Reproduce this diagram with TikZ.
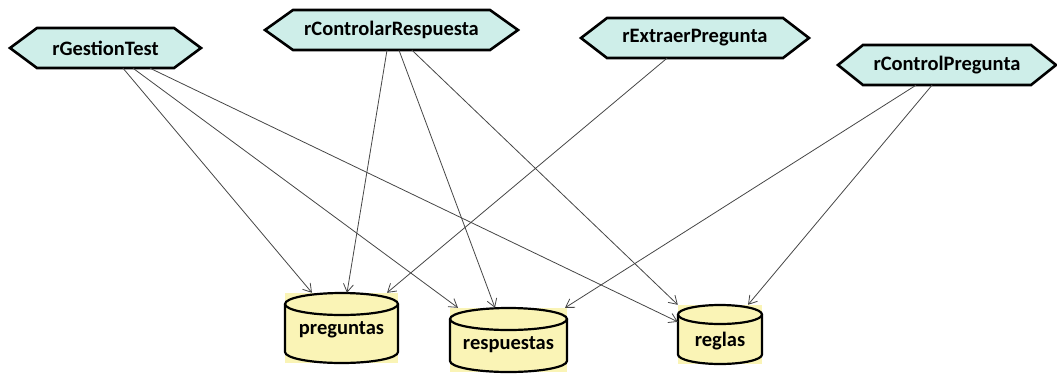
\documentclass[tikz,border=0pt]{standalone}
\usepackage{fontspec}
\setmainfont{Carlito}
\usetikzlibrary{arrows.meta,calc}

\definecolor{rulefill}{RGB}{206,238,233}
\definecolor{storefill}{RGB}{250,244,182}
\definecolor{flowgray}{RGB}{70,70,70}

\tikzset{
  x=1pt, y=-1pt,
  hexframe/.style={draw=black, line width=2.6pt, line join=miter, fill=rulefill},
  hexlabel/.style={inner sep=0pt, font=\fontsize{20.5}{22}\selectfont\bfseries, text=black},
  storeframe/.style={draw=black, line width=2.2pt},
  storelabel/.style={inner sep=0pt, font=\fontsize{20.5}{22}\selectfont\bfseries, text=black},
  flow/.style={draw=flowgray, line width=0.8pt, -{Straight Barb[length=8pt,width=10pt]}},
}

% hexagonal rule box: name, centre x, centre y, half flat width, tip length, label
\newcommand\rulebox[6]{%
  \path[hexframe] (#2-#4-#5,#3) -- (#2-#4,#3-20) -- (#2+#4,#3-20)
     -- (#2+#4+#5,#3) -- (#2+#4,#3+20) -- (#2-#4,#3+20) -- cycle;
  \node[hexlabel, minimum width=2*#4 pt, minimum height=40pt] (#1) at (#2,#3) {#6};
}

% data store drum: name, centre x, top y, bottom y, half width, lid radius, label y, label
\newcommand\storedrum[8]{%
  \fill[storefill] (#2-#5,#3) rectangle (#2+#5,#4);
  \draw[storeframe] (#2-#5,#3+#6) -- (#2-#5,#4-#6)
     arc[start angle=180, end angle=360, x radius=#5 pt, y radius=#6 pt]
     -- (#2+#5,#3+#6);
  \draw[storeframe] (#2,#3+#6) ellipse[x radius=#5 pt, y radius=#6 pt];
  \node[inner sep=0pt, minimum width=2*#5 pt, minimum height=#4-#3 pt] (#1) at (#2,{(#3+#4)/2}) {};
  \node[storelabel] at (#2,#7) {#8};
}

\begin{document}
\begin{tikzpicture}
\useasboundingbox (0,0) rectangle (1057,373);

% rules
\rulebox{gest}{105.5}{48}{68.5}{27}{rGestionTest}
\rulebox{ctrlresp}{391.5}{30}{98.5}{28}{rControlarRespuesta}
\rulebox{extr}{695}{38}{88}{26}{rExtraerPregunta}
\rulebox{ctrlpreg}{947}{65}{84}{25}{rControlPregunta}

% data stores
\storedrum{preg}{341.5}{293}{363}{56.5}{11}{330}{preguntas}
\storedrum{resp}{508.5}{308}{372}{58.5}{11}{345}{respuestas}
\storedrum{regl}{720}{305}{364}{42}{9.5}{341}{reglas}

% accesses
\draw[flow] ([xshift=17.5pt]gest.south) -- ([xshift=-29.5pt]preg.north);
\draw[flow] ([xshift=27.5pt]gest.south) -- ([xshift=-50.5pt]resp.north);
\draw[flow] ([xshift=44.5pt]gest.south) -- ([yshift=-17pt]regl.north west);

\draw[flow] ([xshift=-4.5pt]ctrlresp.south) -- ([xshift=5.5pt]preg.north);
\draw[flow] ([xshift=7.5pt]ctrlresp.south) -- ([xshift=-13.5pt]resp.north);
\draw[flow] ([xshift=20.5pt]ctrlresp.south) -- (regl.north west);

\draw[flow] ([xshift=-28pt]extr.south) -- ([xshift=45.5pt]preg.north);

\draw[flow] ([xshift=-31pt]ctrlpreg.south) -- ([xshift=56.5pt]resp.north);
\draw[flow] ([xshift=-15pt]ctrlpreg.south) -- ([xshift=28pt]regl.north);
\end{tikzpicture}
\end{document}
